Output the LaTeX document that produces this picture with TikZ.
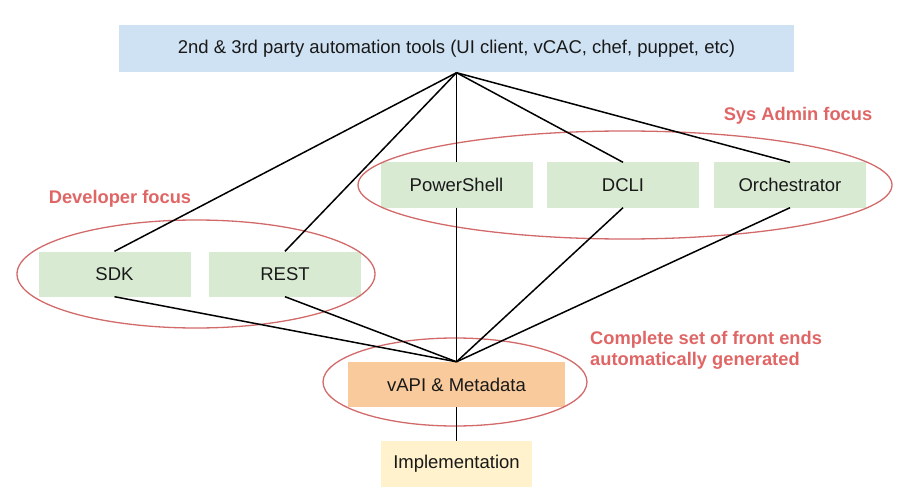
\documentclass[tikz,border=0pt]{standalone}
\usepackage{fontspec}
\setmainfont{Liberation Sans}
\definecolor{toolsblue}{HTML}{CFE2F3}
\definecolor{frontgreen}{HTML}{D9EAD3}
\definecolor{apiorange}{HTML}{F9CB9C}
\definecolor{implyellow}{HTML}{FFF2CC}
\definecolor{focusred}{HTML}{E06666}
\definecolor{ringred}{HTML}{D26A6A}
\begin{document}
\begin{tikzpicture}
[x=1pt,y=-1pt,
  boxdecorate/.style={shape=rectangle,inner sep=0pt,minimum width=152pt,minimum height=45pt,
    font=\fontsize{18.5}{21}\selectfont,text=black!90},%
  frontdecorate/.style={boxdecorate,fill=frontgreen},%
  linedecorate/.style={-,line width=1.5pt,black},%
  ringdecorate/.style={draw=ringred,line width=1.3pt},%
  focusdecorate/.style={inner sep=0pt,text=focusred,font=\fontsize{18.3}{21}\selectfont\bfseries}]
\useasboundingbox (0,0) rectangle (913,500);
%% top and bottom boxes
\node (tools) at (456.5,49) [boxdecorate,fill=toolsblue,minimum width=675pt,minimum height=47pt]
  {2nd \& 3rd party automation tools (UI client, vCAC, chef, puppet, etc)};
\node (vapi) at (456.5,384.5) [boxdecorate,fill=apiorange,minimum width=217pt] {vAPI \& Metadata};
\node (impl) at (456.5,464) [boxdecorate,fill=implyellow,minimum width=151pt,minimum height=46pt] {Implementation};
%% front ends
\foreach \nodename/\x/\y/\nodetext in {ps/456.5/185/PowerShell, dcli/623/185/DCLI,
  orch/790/185/Orchestrator, sdk/114.5/274/SDK, rest/285/274/REST} {
  \node (\nodename) at (\x,\y) [frontdecorate] {\nodetext};
}
%% focus rings
\draw[ringdecorate] (625,185) ellipse [x radius=267, y radius=54];
\draw[ringdecorate] (196,274) ellipse [x radius=179, y radius=54];
\draw[ringdecorate] (455,382) ellipse [x radius=132, y radius=44];
%% focus labels
\node (sysadmin) at (798,121) [focusdecorate,anchor=base] {Sys Admin focus};
\node (developer) at (120,204) [focusdecorate,anchor=base] {Developer focus};
\node (complete) at (590,350) [focusdecorate,anchor=west,align=left]
  {Complete set of front ends\\automatically generated};
%% edges or lines
\path
\foreach \endnode in {ps, dcli, orch, sdk, rest} {
  (tools.south) edge[linedecorate] (\endnode.north)
  (\endnode.south) edge[linedecorate] (vapi.north)
}
(vapi) edge[linedecorate] (impl);
\end{tikzpicture}
\end{document}
